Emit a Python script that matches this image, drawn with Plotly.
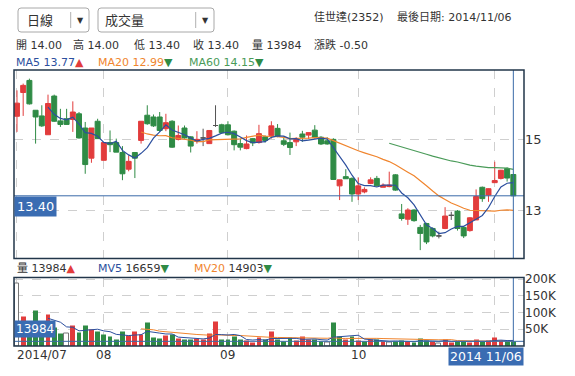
import plotly.graph_objects as go
import pandas as pd

# ---------------- data ----------------
opens = [15.64, 16.31, 16.65, 15.81, 15.65, 15.12, 16.21, 15.51, 15.57, 15.55,
         15.71, 15.31, 14.46, 15.50, 14.40, 14.90, 14.90, 14.62, 14.15, 14.62,
         14.96, 15.67, 15.62, 15.62, 15.29, 15.50, 14.99, 15.31, 15.06, 14.93,
         15.03, 14.87, 15.38, 15.40, 15.40, 15.22, 14.87, 14.73, 15.01, 14.90,
         15.06, 15.10, 15.30, 14.95, 14.90, 14.92, 15.14, 15.11, 15.25, 15.05,
         14.95, 14.99, 13.68, 13.94, 13.89, 13.45, 13.51, 13.75, 13.89, 13.64,
         13.66, 13.99, 12.89, 12.74, 13.00, 12.51, 12.62, 12.48, 12.27, 12.48,
         12.85, 12.97, 12.51, 12.42, 12.72, 13.64, 13.42, 13.77, 13.89, 14.17,
         14.00]
highs = [16.37, 16.56, 16.70, 15.81, 15.95, 16.25, 16.25, 15.85, 15.85, 16.06,
         15.76, 15.48, 15.31, 15.57, 14.90, 15.24, 15.01, 14.80, 14.54, 14.63,
         15.50, 15.95, 15.69, 15.76, 15.71, 15.53, 15.38, 15.38, 15.08, 15.22,
         15.29, 15.24, 15.95, 15.43, 15.50, 15.24, 15.01, 15.10, 15.03, 15.40,
         15.10, 15.50, 15.42, 15.07, 15.18, 15.05, 15.23, 15.18, 15.39, 15.08,
         15.05, 15.02, 13.85, 14.15, 13.92, 13.92, 13.64, 13.92, 13.96, 13.75,
         14.08, 14.01, 13.17, 13.05, 13.02, 12.58, 12.64, 12.51, 12.39, 13.08,
         12.95, 13.00, 12.53, 12.80, 13.58, 13.66, 13.61, 14.36, 14.13, 14.20,
         14.00]
lows = [15.20, 15.65, 15.97, 14.87, 15.34, 15.12, 15.48, 15.34, 15.40, 15.20,
        15.01, 14.02, 14.33, 15.00, 14.40, 14.63, 14.63, 13.84, 14.09, 13.90,
        14.87, 15.40, 15.34, 15.20, 15.22, 14.75, 14.96, 15.01, 14.62, 14.87,
        14.80, 14.87, 15.34, 15.15, 15.10, 14.68, 14.68, 14.71, 14.80, 14.87,
        14.90, 15.01, 15.05, 14.80, 14.55, 14.80, 14.92, 15.00, 15.01, 14.83,
        14.84, 13.85, 13.28, 13.88, 13.23, 13.28, 13.47, 13.73, 13.66, 13.64,
        13.64, 13.54, 12.70, 12.58, 12.67, 11.87, 12.04, 12.23, 12.20, 12.46,
        12.72, 12.42, 12.21, 12.39, 12.72, 13.23, 13.23, 13.77, 13.86, 13.80,
        13.40]
closes = [16.01, 16.51, 15.99, 15.62, 15.37, 16.00, 15.50, 15.41, 15.41, 15.76,
          15.03, 14.28, 15.31, 15.01, 14.90, 14.84, 14.63, 14.02, 14.37, 14.46,
          15.50, 15.43, 15.37, 15.24, 15.46, 14.77, 15.10, 15.03, 14.80, 14.99,
          15.03, 15.24, 15.38, 15.18, 15.12, 14.84, 14.77, 14.86, 14.89, 15.15,
          14.96, 15.37, 15.08, 14.85, 14.76, 14.99, 15.05, 15.18, 15.05, 14.86,
          14.86, 13.86, 13.85, 13.88, 13.45, 13.68, 13.58, 13.85, 13.68, 13.70,
          13.70, 13.56, 12.76, 13.00, 12.70, 12.34, 12.10, 12.27, 12.27, 12.83,
          12.85, 12.48, 12.27, 12.78, 13.38, 13.32, 13.60, 13.83, 14.12, 13.90,
          13.40]
volumes = [188000, 88000, 62000, 106000, 66000, 93000, 55000, 36000, 36000, 60000,
           40000, 60000, 48000, 43000, 35000, 28000, 20000, 43000, 30000, 43000,
           33000, 70000, 25000, 22000, 30000, 33000, 23000, 20000, 20000, 23000,
           20000, 36000, 73000, 18000, 18000, 28000, 18000, 15000, 10000, 25000,
           20000, 42000, 18000, 14000, 25000, 15000, 27000, 20000, 19000, 14000,
           9000, 70000, 27000, 20000, 28000, 16000, 12000, 18000, 19000, 13000,
           10000, 14600, 17800, 13000, 9700, 22700, 16200, 13000, 8100, 20300,
           11300, 14600, 12200, 9700, 19400, 12165, 17000, 24000, 15311, 13000,
           13984]

month_idx = [0, 14, 34, 55, 77]
month_labels = ["2014/07", "08", "09", "10", "11"]
last_date_label = "2014 11/06"
price_ticks = [13, 15]
vol_ticks = [50000, 100000, 150000, 200000]
vol_tick_labels = ["50K", "100K", "150K", "200K"]

period_text = "日線"
indicator_text = "成交量"
stock_text = "佳世達(2352)"
lastday_text = "最後日期: 2014/11/06"
ohlc_texts = ["開 14.00", "高 14.00", "低 13.40", "收 13.40", "量 13984", "漲跌 -0.50"]
ma_names = ["MA5", "MA20", "MA60"]
ma_values = ["13.77", "12.99", "14.15"]
ma_arrows = ["▲", "▼", "▼"]
vol_names = ["量", "MV5", "MV20"]
vol_values = ["13984", "16659", "14903"]
vol_arrows = ["▲", "▼", "▼"]

# ---------------- styles ----------------
RED = "#e23c3c"
GREEN = "#2f8b45"
DOJI = "#555555"
C_MA5 = "#2c4f9e"
C_MA20 = "#f0852e"
C_MA60 = "#4a9b59"
BLUE = "#3a6aa8"
LABEL_BG = "#3a6cb2"
BORDER = "#22364a"
GRID = "#cfcfcf"
TXT = "#333333"
FONT = "DejaVu Sans, Noto Sans CJK TC, sans-serif"

W, H = 575, 376
L, R, T, B = 14, 51, 70, 30
PW, PH = W - L - R, H - T - B


def px(x):
    return (x - L) / PW


def py(y):
    return (H - B - y) / PH


n = len(closes)
idx = list(range(n))


def moving(vals, k):
    s = pd.Series(vals, dtype=float).rolling(k).mean().tolist()
    return [None if i < k else v for i, v in enumerate(s)]


ma5, ma20, ma60 = moving(closes, 5), moving(closes, 20), moving(closes, 60)
mv5, mv20 = moving(volumes, 5), moving(volumes, 20)

doji = [i for i in idx if opens[i] == closes[i]]
norm = [i for i in idx if opens[i] != closes[i]]


def pick(a, ii):
    return [a[i] for i in ii]


fig = go.Figure()
fig.add_trace(go.Candlestick(
    x=norm, open=pick(opens, norm), high=pick(highs, norm), low=pick(lows, norm),
    close=pick(closes, norm),
    increasing=dict(line=dict(color=RED, width=1), fillcolor=RED),
    decreasing=dict(line=dict(color=GREEN, width=1), fillcolor=GREEN),
    whiskerwidth=0, showlegend=False, hoverinfo="skip", xaxis="x", yaxis="y"))
fig.add_trace(go.Candlestick(
    x=doji, open=pick(opens, doji), high=pick(highs, doji), low=pick(lows, doji),
    close=pick(closes, doji),
    increasing=dict(line=dict(color=DOJI, width=1), fillcolor=DOJI),
    decreasing=dict(line=dict(color=DOJI, width=1), fillcolor=DOJI),
    whiskerwidth=0, showlegend=False, hoverinfo="skip", xaxis="x", yaxis="y"))
for vals, col in [(ma60, C_MA60), (ma20, C_MA20), (ma5, C_MA5)]:
    fig.add_trace(go.Scatter(x=idx, y=vals, mode="lines", line=dict(color=col, width=1.2),
                             showlegend=False, hoverinfo="skip", xaxis="x", yaxis="y"))

# volume colors: compared with previous close
vfill, vline, vlw = [], [], []
for i in idx:
    if i == 0 or closes[i] == closes[i - 1]:
        vfill.append("white"); vline.append("#777777"); vlw.append(1)
    elif closes[i] > closes[i - 1]:
        vfill.append(RED); vline.append(RED); vlw.append(0)
    else:
        vfill.append(GREEN); vline.append(GREEN); vlw.append(0)

fig.add_trace(go.Bar(x=idx, y=volumes, width=0.78,
                     marker=dict(color=vfill, line=dict(color=vline, width=vlw)),
                     showlegend=False, hoverinfo="skip", xaxis="x2", yaxis="y2"))
for vals, col in [(mv20, C_MA20), (mv5, C_MA5)]:
    fig.add_trace(go.Scatter(x=idx, y=vals, mode="lines", line=dict(color=col, width=1),
                             showlegend=False, hoverinfo="skip", xaxis="x2", yaxis="y2"))

main_dom = [py(258.5), 1]
vol_dom = [0, py(277.5)]
xr = [-0.48, 81.72]
pr = [13 - (258.5 - 210) / 35.5, 13 + (210 - 70) / 35.5]
vr = [0, 205000]

axis_common = dict(showgrid=True, gridcolor=GRID, griddash="dash", gridwidth=1,
                   zeroline=False, showline=False, ticks="")
fig.update_layout(
    width=W, height=H, margin=dict(l=L, r=R, t=T, b=B),
    paper_bgcolor="white", plot_bgcolor="white",
    font=dict(family=FONT, color=TXT, size=12),
    boxgap=0.2, boxgroupgap=0,
    bargap=0, barmode="overlay",
    xaxis=dict(domain=[0, 1], range=xr, anchor="y", tickvals=month_idx,
               showticklabels=False, rangeslider=dict(visible=False), **axis_common),
    xaxis2=dict(domain=[0, 1], range=xr, anchor="y2", tickvals=month_idx,
                showticklabels=False, matches="x", **axis_common),
    yaxis=dict(domain=main_dom, range=pr, side="right", tickvals=price_ticks,
               ticktext=[str(t) for t in price_ticks], tickfont=dict(size=13, color=TXT),
               **axis_common),
    yaxis2=dict(domain=vol_dom, range=vr, side="right", tickvals=vol_ticks,
                ticktext=vol_tick_labels, tickfont=dict(size=12, color=TXT),
                **axis_common),
)

shapes = []
# price & volume current lines
shapes.append(dict(type="line", xref="paper", x0=0, x1=1, yref="y", y0=closes[-1], y1=closes[-1],
                   line=dict(color=BLUE, width=1)))
shapes.append(dict(type="line", xref="paper", x0=0, x1=1, yref="y2", y0=volumes[-1], y1=volumes[-1],
                   line=dict(color=BLUE, width=1)))
for dom in (main_dom, vol_dom):
    shapes.append(dict(type="line", xref="x", x0=n - 1, x1=n - 1, yref="paper", y0=dom[0], y1=dom[1],
                       line=dict(color=BLUE, width=1)))
    shapes.append(dict(type="rect", xref="paper", x0=0, x1=1, yref="paper", y0=dom[0], y1=dom[1],
                       line=dict(color=BORDER, width=1.5)))


def rrect(x0, y0, x1, y1, r=3):
    pts = (f"M {px(x0 + r)} {py(y0)} L {px(x1 - r)} {py(y0)} Q {px(x1)} {py(y0)} {px(x1)} {py(y0 + r)} "
           f"L {px(x1)} {py(y1 - r)} Q {px(x1)} {py(y1)} {px(x1 - r)} {py(y1)} "
           f"L {px(x0 + r)} {py(y1)} Q {px(x0)} {py(y1)} {px(x0)} {py(y1 - r)} "
           f"L {px(x0)} {py(y0 + r)} Q {px(x0)} {py(y0)} {px(x0 + r)} {py(y0)} Z")
    return dict(type="path", xref="paper", yref="paper", path=pts,
                line=dict(color="#a8a8a8", width=1), fillcolor="white", layer="above")


for (x0, x1, sep) in [(18, 89, 70.7), (98, 214, 195.7)]:
    shapes.append(rrect(x0, 8, x1, 32))
    shapes.append(dict(type="line", xref="paper", yref="paper", x0=px(sep), x1=px(sep),
                       y0=py(12), y1=py(28), line=dict(color="#b0b0b0", width=1)))
fig.update_layout(shapes=shapes)

ann = []


def text(x, y, s, size=11, color=TXT, xanchor="left", **kw):
    d = dict(xref="paper", yref="paper", x=px(x), y=py(y), text=s, showarrow=False,
             xanchor=xanchor, yanchor="middle", font=dict(size=size, color=color, family=FONT))
    d.update(kw)
    ann.append(d)


text(25, 20.5, period_text, size=13)
text(80, 20.5, "▼", size=8, xanchor="center")
text(103, 20.5, indicator_text, size=13)
text(205, 20.5, "▼", size=8, xanchor="center")
text(312, 17.5, stock_text, size=11)
text(395, 17.5, lastday_text, size=11)

for s, x in zip(ohlc_texts, [14, 71, 132, 191, 250, 312]):
    text(x, 45, s, size=11)

ma_cols = [C_MA5, C_MA20, C_MA60]
for nm, v, a, c, x in zip(ma_names, ma_values, ma_arrows, ma_cols, [14, 96, 187]):
    ac = RED if a == "▲" else GREEN
    text(x, 62.5, f"<span style='color:{c}'>{nm} {v}</span>"
                  f"<span style='color:{ac}'>{a}</span>", size=11)

vcols = [TXT, C_MA5, C_MA20]
for nm, v, a, c, x in zip(vol_names, vol_values, vol_arrows, vcols, [15, 96, 192]):
    ac = RED if a == "▲" else GREEN
    text(x, 268, f"<span style='color:{c}'>{nm}</span> <span style='color:{TXT}'>{v}</span>"
                 f"<span style='color:{ac}'>{a}</span>", size=11)

# month labels under the volume panel (the last month is covered by the date tag)
for i, (m, lab) in enumerate(zip(month_idx[:-1], month_labels[:-1])):
    ann.append(dict(xref="x2", yref="paper", x=m, y=py(354.5), text=lab, showarrow=False,
                    xanchor="left" if i == 0 else "center", yanchor="middle",
                    xshift=-2 if i == 0 else 0, font=dict(size=12, color=TXT, family=FONT)))

# value tags
ann.append(dict(xref="paper", yref="y", x=0, y=closes[-1], text=f"{closes[-1]:.2f}", showarrow=False,
                xanchor="left", yanchor="top", bgcolor=LABEL_BG, borderpad=2,
                font=dict(size=13, color="white", family=FONT)))
ann.append(dict(xref="paper", yref="y2", x=0, y=volumes[-1], text=str(volumes[-1]), showarrow=False,
                xanchor="left", yanchor="bottom", yshift=3, bgcolor=LABEL_BG, borderpad=1,
                font=dict(size=12, color="white", family=FONT)))
ann.append(dict(xref="paper", yref="paper", x=1, y=0, text=last_date_label, showarrow=False,
                xanchor="right", yanchor="top", yshift=-1, bgcolor=LABEL_BG, borderpad=1,
                font=dict(size=12.5, color="white", family=FONT)))
fig.update_layout(annotations=ann)

fig.write_html("out.html", config={"displayModeBar": False},
               post_script="document.body.style.margin='0';")
